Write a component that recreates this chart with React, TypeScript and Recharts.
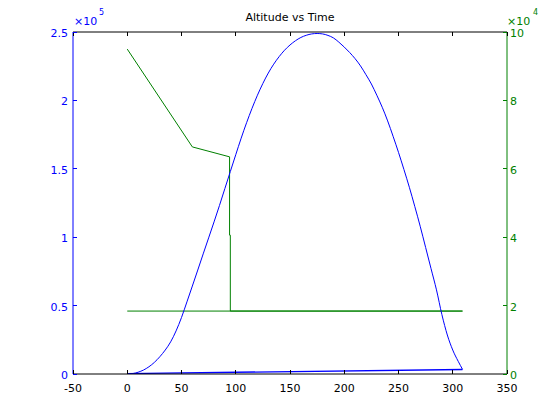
import React from 'react';
import { LineChart, Line, XAxis, YAxis } from 'recharts';

// Altitude (left axis) vs time
const altT = [0, 5, 10, 15, 20, 25, 30, 35, 40, 45, 50, 55, 60, 65, 70, 75, 80, 85, 90, 95, 100, 105, 110, 115, 120, 125, 130, 135, 140, 145, 150, 155, 160, 165, 170, 175, 180, 185, 190, 195, 200, 205, 210, 215, 220, 225, 230, 235, 240, 245, 250, 255, 260, 265, 270, 275, 280, 285, 290, 295, 300, 305, 309];
const altV = [0, 300, 1300, 2900, 5300, 8500, 12600, 17500, 23500, 31500, 41300, 52700, 64300, 76000, 87800, 99500, 111200, 123200, 135600, 148000, 160300, 172400, 183700, 194200, 203800, 212400, 220000, 226500, 232000, 236700, 240500, 243600, 246000, 247600, 248600, 248900, 248600, 247500, 245700, 242600, 239000, 235000, 230500, 225200, 218800, 212000, 203800, 195000, 185000, 173800, 162000, 149500, 136500, 122500, 108000, 92500, 77000, 61500, 43400, 28500, 17500, 9300, 3400];

// Low blue line (left axis)
const lowT = [0, 309];
const lowV = [300, 3300];

// Mass (right axis)
const massT = [0, 60, 94.3, 94.3, 95, 95, 309];
const massV = [95000, 66400, 63500, 40600, 40600, 18400, 18400];

// Flat green line (right axis)
const flatT = [0, 309];
const flatV = [18400, 18400];

const xTicks = [-50, 0, 50, 100, 150, 200, 250, 300, 350];
const leftTicks = [0, 50000, 100000, 150000, 200000, 250000];
const rightTicks = [0, 20000, 40000, 60000, 80000, 100000];

const title = 'Altitude vs Time';

const zip = (ts: number[], vs: number[]) => ts.map((t, i) => ({ t, v: vs[i] }));

const altData = zip(altT, altV);
const lowData = zip(lowT, lowV);
const massData = zip(massT, massV);
const flatData = zip(flatT, flatV);

const FONT = 'DejaVu Sans';
const BLUE = '#0000ff';
const GREEN = '#008000';
const TL = 4;

const BottomTick = (props: any) => {
  const { x, y, payload } = props;
  return (
    <g>
      <line x1={x} x2={x} y1={y} y2={y - TL} stroke="#000" shapeRendering="crispEdges" />
      <text x={x} y={y + 18} textAnchor="middle" fontFamily={FONT} fontSize={11} fill="#000">
        {payload.value}
      </text>
    </g>
  );
};

const TopTick = (props: any) => {
  const { x, y } = props;
  return <line x1={x} x2={x} y1={y} y2={y + TL} stroke="#000" shapeRendering="crispEdges" />;
};

const LeftTick = (props: any) => {
  const { x, y, payload } = props;
  return (
    <g>
      <line x1={x} x2={x + TL} y1={y} y2={y} stroke={BLUE} shapeRendering="crispEdges" />
      <text x={x - 5} y={y + 5} textAnchor="end" fontFamily={FONT} fontSize={11} fill={BLUE}>
        {String(payload.value / 100000)}
      </text>
    </g>
  );
};

const RightTick = (props: any) => {
  const { x, y, payload } = props;
  return (
    <g>
      <line x1={x - TL} x2={x} y1={y} y2={y} stroke={GREEN} shapeRendering="crispEdges" />
      <text x={x + 3} y={y + 5} textAnchor="start" fontFamily={FONT} fontSize={11} fill={GREEN}>
        {String(payload.value / 10000)}
      </text>
    </g>
  );
};

export default function App() {
  return (
    <div style={{ position: 'absolute', left: 0, top: 0, width: 560, height: 420, background: '#fff' }}>
      <LineChart width={560} height={420} margin={{ top: 31, right: 0, bottom: 0, left: 0 }}>
        <XAxis
          xAxisId="bottom"
          type="number"
          dataKey="t"
          domain={[-50, 350]}
          ticks={xTicks}
          interval={0}
          allowDataOverflow
          height={46}
          tickSize={0}
          tickMargin={0}
          tickLine={false}
          axisLine={{ stroke: '#000' }}
          tick={<BottomTick />}
        />
        <XAxis
          xAxisId="top"
          orientation="top"
          type="number"
          dataKey="t"
          domain={[-50, 350]}
          ticks={xTicks}
          interval={0}
          allowDataOverflow
          height={1}
          tickSize={0}
          tickMargin={0}
          tickLine={false}
          axisLine={{ stroke: '#000' }}
          tick={<TopTick />}
        />
        <YAxis
          yAxisId="left"
          orientation="left"
          type="number"
          domain={[0, 250000]}
          ticks={leftTicks}
          interval={0}
          allowDataOverflow
          width={73}
          tickSize={0}
          tickMargin={0}
          tickLine={false}
          axisLine={{ stroke: BLUE }}
          tick={<LeftTick />}
        />
        <YAxis
          yAxisId="right"
          orientation="right"
          type="number"
          domain={[0, 100000]}
          ticks={rightTicks}
          interval={0}
          allowDataOverflow
          width={53}
          tickSize={0}
          tickMargin={0}
          tickLine={false}
          axisLine={{ stroke: GREEN }}
          tick={<RightTick />}
        />
        <Line xAxisId="top" yAxisId="right" data={flatData} dataKey="v" type="linear" stroke={GREEN} strokeWidth={1} dot={false} isAnimationActive={false} />
        <Line xAxisId="bottom" yAxisId="right" data={massData} dataKey="v" type="linear" stroke={GREEN} strokeWidth={1} dot={false} isAnimationActive={false} />
        <Line xAxisId="bottom" yAxisId="left" data={lowData} dataKey="v" type="linear" stroke={BLUE} strokeWidth={1.3} dot={false} isAnimationActive={false} />
        <Line xAxisId="bottom" yAxisId="left" data={altData} dataKey="v" type="monotone" stroke={BLUE} strokeWidth={1} dot={false} isAnimationActive={false} />
      </LineChart>
      <svg width={560} height={420} style={{ position: 'absolute', left: 0, top: 0, pointerEvents: 'none' }}>
        <text x={290} y={21} textAnchor="middle" fontFamily={FONT} fontSize={11} fill="#000">{title}</text>
        <text x={74} y={25} fontFamily={FONT} fontSize={11} fill={BLUE}>×10</text>
        <text x={99} y={15} fontFamily={FONT} fontSize={8} fill={BLUE}>5</text>
        <text x={507} y={25} fontFamily={FONT} fontSize={11} fill={GREEN}>×10</text>
        <text x={533} y={15} fontFamily={FONT} fontSize={8} fill={GREEN}>4</text>
      </svg>
    </div>
  );
}
